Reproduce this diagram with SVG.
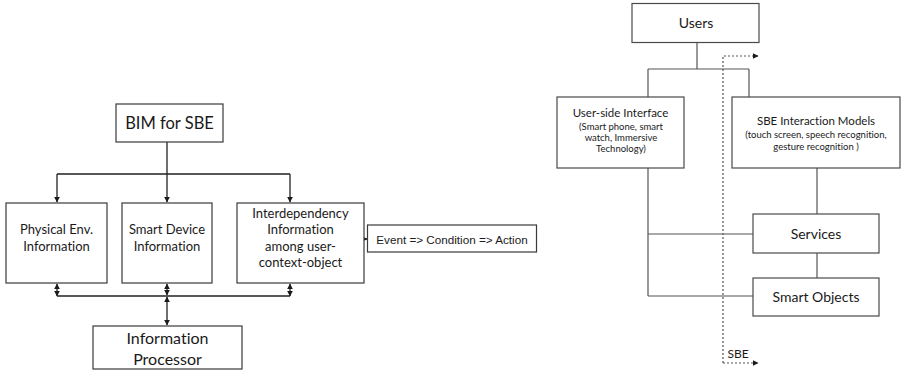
<svg xmlns="http://www.w3.org/2000/svg" width="901" height="375" viewBox="0 0 901 375">
  <style>
    .box { fill: #ffffff; stroke: #3a3a3a; stroke-width: 1.2; }
    .rbox { fill: #ffffff; stroke: #4a4a4a; stroke-width: 1.2; }
    .wire { fill: none; stroke: #222222; stroke-width: 1.3; }
    .rwire { fill: none; stroke: #555555; stroke-width: 1.2; }
    .dot { fill: none; stroke: #555555; stroke-width: 1.2; stroke-dasharray: 2 2; }
    .t { font-family: Lato, "Open Sans", sans-serif; fill: #1a1a1a; text-anchor: middle; font-variant-ligatures: none; }
    .arial { font-family: "Liberation Sans", Arial, sans-serif; fill: #1a1a1a; text-anchor: middle; }
  </style>
  <defs>
    <marker id="arr" viewBox="0 0 10 10" refX="9" refY="5" markerWidth="6" markerHeight="6" orient="auto-start-reverse" markerUnits="userSpaceOnUse">
      <path d="M0,0 L10,5 L0,10 Z" fill="#1a1a1a"/>
    </marker>
  </defs>

  <rect width="901" height="375" fill="#ffffff"/>

  <!-- connectors -->
  <g id="connectors">
    <!-- BIM fan-out -->
    <path class="wire" d="M167,142 V174 M57,174 H290"/>
    <path class="wire" d="M57,174 V202" marker-end="url(#arr)"/>
    <path class="wire" d="M167,174 V202" marker-end="url(#arr)"/>
    <path class="wire" d="M290,174 V202" marker-end="url(#arr)"/>
    <!-- information boxes to the shared bus -->
    <path class="wire" d="M57,284 V296" marker-start="url(#arr)" marker-end="url(#arr)"/>
    <path class="wire" d="M167,284 V295" marker-start="url(#arr)" marker-end="url(#arr)"/>
    <path class="wire" d="M290,284 V296" marker-start="url(#arr)" marker-end="url(#arr)"/>
    <path class="wire" d="M57,296 H290"/>
    <path class="wire" d="M167,297 V325" marker-start="url(#arr)" marker-end="url(#arr)"/>
    <!-- interdependency to rule -->
    <path class="wire" d="M364,239 H367" marker-end="url(#arr)"/>

    <!-- right-hand tree -->
    <path class="rwire" d="M697,42 V69 M648,69 H749 M648,69 V97 M749,69 V97"/>
    <path class="rwire" d="M648,168 V296 M648,234 H753 M648,296 H753"/>
    <path class="rwire" d="M817,168 V214 M817,253 V278"/>
    <!-- SBE boundary -->
    <path class="dot" d="M723,363 V56 H758" marker-end="url(#arr)"/>
    <path class="dot" d="M723,363 H758" marker-end="url(#arr)"/>
  </g>

  <!-- left diagram -->
  <g id="bim">
    <rect class="box" x="116" y="104" width="107" height="38"/>
    <text class="t" x="169.5" y="129" font-size="16.5">BIM for SBE</text>
  </g>
  <g id="physical">
    <rect class="box" x="6" y="203" width="101" height="80"/>
    <text class="t" x="56.5" y="234" font-size="13">Physical Env.</text>
    <text class="t" x="56.5" y="251" font-size="13">Information</text>
  </g>
  <g id="smartdevice">
    <rect class="box" x="122" y="203" width="90" height="80"/>
    <text class="t" x="167" y="234" font-size="13">Smart Device</text>
    <text class="t" x="167" y="251" font-size="13">Information</text>
  </g>
  <g id="interdependency">
    <rect class="box" x="237" y="203" width="127" height="80"/>
    <text class="t" x="300.5" y="217.5" font-size="13">Interdependency</text>
    <text class="t" x="300.5" y="234" font-size="13">Information</text>
    <text class="t" x="300.5" y="250.5" font-size="13">among user-</text>
    <text class="t" x="300.5" y="267" font-size="13">context-object</text>
  </g>
  <g id="rule">
    <rect class="box" x="367.5" y="225" width="169" height="27"/>
    <text class="arial" x="452" y="243.5" font-size="11.7">Event =&gt; Condition =&gt; Action</text>
  </g>
  <g id="processor">
    <rect class="box" x="93" y="326" width="149" height="43"/>
    <text class="t" x="167.5" y="343.5" font-size="16">Information</text>
    <text class="t" x="167.5" y="365" font-size="16">Processor</text>
  </g>

  <!-- right diagram -->
  <g id="users">
    <rect class="rbox" x="632" y="3.5" width="127" height="39"/>
    <text class="t" x="696" y="27.5" font-size="14">Users</text>
  </g>
  <g id="userside">
    <rect class="rbox" x="557" y="97" width="127" height="71"/>
    <text class="t" x="620.5" y="117" font-size="11.5">User-side Interface</text>
    <text class="t" x="621" y="130" font-size="9.5">(Smart phone, smart</text>
    <text class="t" x="621" y="141" font-size="9.5">watch, Immersive</text>
    <text class="t" x="621" y="152" font-size="9.5">Technology)</text>
  </g>
  <g id="interaction">
    <rect class="rbox" x="732" y="97" width="168" height="71"/>
    <text class="t" x="816" y="124.5" font-size="11.5">SBE Interaction Models</text>
    <text class="t" x="816" y="137.5" font-size="9.5">(touch screen, speech recognition,</text>
    <text class="t" x="816" y="149.5" font-size="9.5">gesture recognition )</text>
  </g>
  <g id="services">
    <rect class="rbox" x="753" y="214" width="126" height="39"/>
    <text class="t" x="816" y="238.5" font-size="14">Services</text>
  </g>
  <g id="smartobjects">
    <rect class="rbox" x="753" y="278" width="126" height="38"/>
    <text class="t" x="816" y="301.5" font-size="14">Smart Objects</text>
  </g>
  <g id="sbe-label">
    <text class="t" x="738" y="358" font-size="12">SBE</text>
  </g>
</svg>
